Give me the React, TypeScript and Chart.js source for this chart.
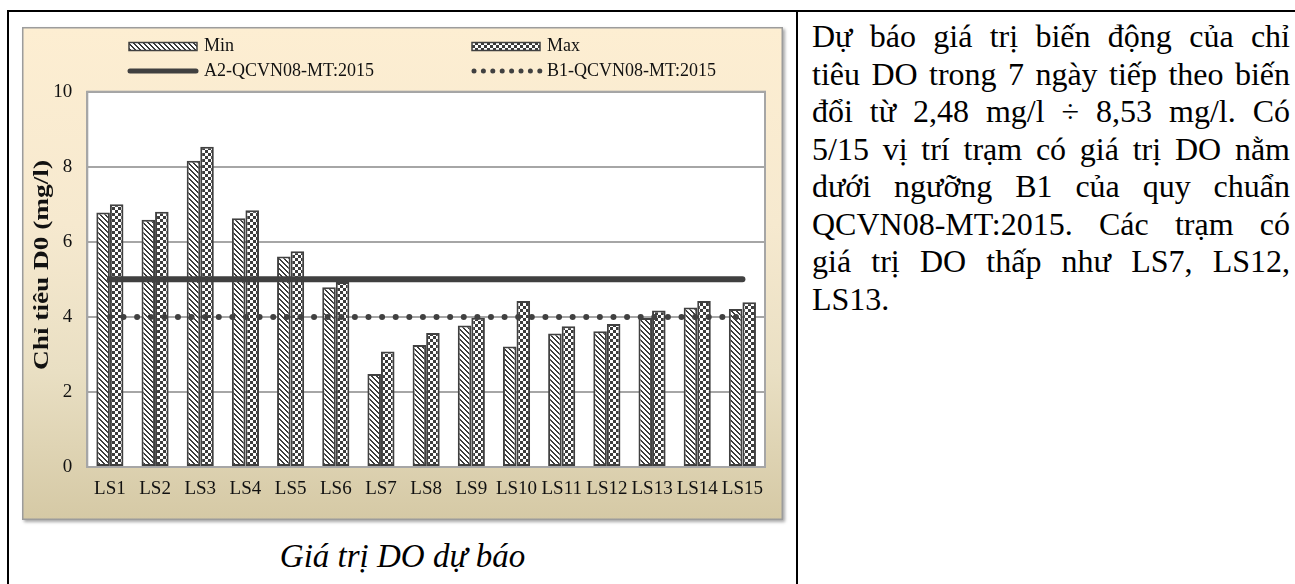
import React, { useEffect, useRef } from 'react';
import { Chart, registerables } from 'chart.js';

Chart.register(...registerables);

const categories = ['LS1', 'LS2', 'LS3', 'LS4', 'LS5', 'LS6', 'LS7', 'LS8', 'LS9', 'LS10', 'LS11', 'LS12', 'LS13', 'LS14', 'LS15'];
const minValues = [6.78, 6.59, 8.16, 6.63, 5.61, 4.79, 2.48, 3.25, 3.77, 3.21, 3.56, 3.62, 3.97, 4.25, 4.21];
const maxValues = [7.0, 6.8, 8.53, 6.84, 5.75, 4.93, 3.08, 3.57, 3.98, 4.42, 3.75, 3.81, 4.17, 4.42, 4.39];
const a2Values = [5, 5, 5, 5, 5, 5, 5, 5, 5, 5, 5, 5, 5, 5, 5];
const b1Values = [4, 4, 4, 4, 4, 4, 4, 4, 4, 4, 4, 4, 4, 4, 4];
const yTicks = [0, 2, 4, 6, 8, 10];
const seriesLabels = ['Min', 'Max', 'A2-QCVN08-MT:2015', 'B1-QCVN08-MT:2015'];
const axisTitle = 'Chỉ tiêu D0 (mg/l)';
const caption = 'Giá trị DO dự báo';
const paragraphLines = [
  'Dự báo giá trị biến động của chỉ',
  'tiêu DO trong 7 ngày tiếp theo biến',
  'đổi từ 2,48 mg/l ÷ 8,53 mg/l. Có',
  '5/15 vị trí trạm có giá trị DO nằm',
  'dưới ngưỡng B1 của quy chuẩn',
  'QCVN08-MT:2015. Các trạm có',
  'giá trị DO thấp như LS7, LS12,',
  'LS13.',
];

const SERIF = '"Liberation Serif", "Times New Roman", serif';
const DARK = '#404040';

function makeStripe(ctx: CanvasRenderingContext2D): CanvasPattern {
  const size = 5;
  const c = document.createElement('canvas');
  c.width = size;
  c.height = size;
  const t = c.getContext('2d')!;
  t.fillStyle = '#ffffff';
  t.fillRect(0, 0, size, size);
  t.fillStyle = '#3c3c3c';
  for (let y = 0; y < size; y++) {
    for (let x = 0; x < size; x++) {
      const d = (((x - y) % size) + size) % size;
      if (d < 2) t.fillRect(x, y, 1, 1);
    }
  }
  return ctx.createPattern(c, 'repeat')!;
}

function makeChecker(ctx: CanvasRenderingContext2D): CanvasPattern {
  const cell = 3;
  const c = document.createElement('canvas');
  c.width = cell * 2;
  c.height = cell * 2;
  const t = c.getContext('2d')!;
  t.fillStyle = '#ffffff';
  t.fillRect(0, 0, cell * 2, cell * 2);
  t.fillStyle = '#3c3c3c';
  t.fillRect(0, 0, cell, cell);
  t.fillRect(cell, cell, cell, cell);
  return ctx.createPattern(c, 'repeat')!;
}

export default function App() {
  const canvasRef = useRef<HTMLCanvasElement | null>(null);

  useEffect(() => {
    const canvas = canvasRef.current;
    if (!canvas) return;
    const ctx = canvas.getContext('2d')!;
    const stripe = makeStripe(ctx);
    const checker = makeChecker(ctx);

    const plotBg = {
      id: 'plotBg',
      beforeDraw(chart: any) {
        const { ctx: c, chartArea: a } = chart;
        c.save();
        c.fillStyle = '#ffffff';
        c.fillRect(a.left, a.top, a.right - a.left, a.bottom - a.top);
        c.restore();
      },
      beforeDatasetsDraw(chart: any) {
        const { ctx: c, chartArea: a } = chart;
        c.save();
        c.strokeStyle = '#a6a6a6';
        c.lineWidth = 2;
        c.strokeRect(a.left, a.top, a.right - a.left, a.bottom - a.top);
        c.restore();
      },
    };

    const extras = {
      id: 'extras',
      afterDraw(chart: any) {
        const c: CanvasRenderingContext2D = chart.ctx;
        // y-axis title
        c.save();
        c.translate(21, 238);
        c.rotate(-Math.PI / 2);
        c.scale(1.3, 1);
        c.font = 'bold 21px ' + SERIF;
        c.textAlign = 'center';
        c.textBaseline = 'middle';
        c.fillStyle = '#111';
        c.fillText(axisTitle, 0, 0);
        c.restore();

        // legend
        c.save();
        c.font = '18px ' + SERIF;
        c.textBaseline = 'middle';
        c.textAlign = 'left';
        c.fillStyle = '#111';
        const col1 = 107;
        const col2 = 450;
        const row1 = 19.5;
        const row2 = 44;
        const bw = 68;
        // Min
        c.fillStyle = stripe;
        c.fillRect(col1, row1 - 4, bw, 8);
        c.strokeStyle = DARK;
        c.lineWidth = 1.5;
        c.strokeRect(col1, row1 - 4, bw, 8);
        c.fillStyle = '#111';
        c.fillText(seriesLabels[0], col1 + bw + 7, row1);
        // Max
        c.fillStyle = checker;
        c.fillRect(col2, row1 - 4, bw, 8);
        c.strokeRect(col2, row1 - 4, bw, 8);
        c.fillStyle = '#111';
        c.fillText(seriesLabels[1], col2 + bw + 7, row1);
        // A2
        c.strokeStyle = DARK;
        c.lineWidth = 5;
        c.lineCap = 'round';
        c.beginPath();
        c.moveTo(col1 + 1, row2);
        c.lineTo(col1 + bw - 1, row2);
        c.stroke();
        c.fillStyle = '#111';
        c.fillText(seriesLabels[2], col1 + bw + 7, row2);
        // B1
        c.fillStyle = DARK;
        for (let i = 0; i < 8; i++) {
          c.beginPath();
          c.arc(col2 + 2 + i * 9.4, row2, 2.5, 0, Math.PI * 2);
          c.fill();
        }
        c.fillStyle = '#111';
        c.fillText(seriesLabels[3], col2 + bw + 7, row2);
        c.restore();
      },
    };

    const chart = new Chart(canvas, {
      type: 'bar',
      data: {
        labels: categories,
        datasets: [
          {
            type: 'line',
            label: seriesLabels[2],
            data: a2Values,
            borderColor: DARK,
            borderWidth: 6,
            borderCapStyle: 'round',
            pointRadius: 0,
            fill: false,
            order: 0,
          } as any,
          {
            type: 'line',
            label: seriesLabels[3],
            data: b1Values,
            borderColor: DARK,
            borderWidth: 6,
            borderCapStyle: 'round',
            borderDash: [0.01, 13.6],
            pointRadius: 0,
            fill: false,
            order: 0,
          } as any,
          {
            type: 'bar',
            label: seriesLabels[0],
            data: minValues,
            backgroundColor: stripe,
            borderColor: DARK,
            borderWidth: 2,
            borderSkipped: false,
            categoryPercentage: 0.6,
            barPercentage: 1,
            order: 1,
          } as any,
          {
            type: 'bar',
            label: seriesLabels[1],
            data: maxValues,
            backgroundColor: checker,
            borderColor: DARK,
            borderWidth: 2,
            borderSkipped: false,
            categoryPercentage: 0.6,
            barPercentage: 1,
            order: 1,
          } as any,
        ],
      },
      options: {
        responsive: false,
        animation: false,
        events: [],
        layout: { padding: { top: 64.7, right: 18, left: 0, bottom: 0 } },
        plugins: {
          legend: { display: false },
          tooltip: { enabled: false },
        },
        scales: {
          x: {
            grid: { display: false, drawTicks: false },
            border: { display: false },
            ticks: {
              font: { family: SERIF, size: 19 },
              color: '#111',
              padding: 11,
              maxRotation: 0,
              autoSkip: false,
            },
            afterFit: (s: any) => {
              s.height = 53;
            },
          },
          y: {
            min: 0,
            max: 10,
            grid: { color: '#a6a6a6', lineWidth: 2, drawTicks: false },
            border: { display: true, color: '#a6a6a6', width: 2 },
            ticks: {
              font: { family: SERIF, size: 19 },
              color: '#111',
              padding: 15,
            },
            afterBuildTicks: (s: any) => {
              s.ticks = yTicks.map((v) => ({ value: v }));
            },
            afterFit: (s: any) => {
              s.width = 65.3;
            },
          },
        },
      } as any,
      plugins: [plotBg, extras],
    });

    return () => {
      chart.destroy();
    };
  }, []);

  return (
    <div
      style={{
        position: 'absolute',
        left: 0,
        top: 0,
        width: 1295,
        height: 584,
        overflow: 'hidden',
        background: '#ffffff',
        fontFamily: SERIF,
        color: '#000',
      }}
    >
      <div style={{ position: 'absolute', left: 7, top: 10, width: 1288, height: 2, background: '#000' }} />
      <div style={{ position: 'absolute', left: 7, top: 10, width: 2, height: 574, background: '#000' }} />
      <div style={{ position: 'absolute', left: 796, top: 10, width: 2, height: 574, background: '#000' }} />
      <div
        style={{
          position: 'absolute',
          left: 22,
          top: 27,
          width: 761,
          height: 493,
          background: 'linear-gradient(180deg, #fdeed2 0%, #f6e9cf 40%, #e9dfc3 70%, #d5c9a5 100%)',
          boxShadow: 'inset 0 0 0 1.5px #9c9c9c, 2px 2px 3px rgba(0,0,0,0.35)',
        }}
      >
        <canvas ref={canvasRef} width={761} height={493} style={{ display: 'block' }} />
      </div>
      <div
        style={{
          position: 'absolute',
          left: 9,
          top: 536,
          width: 787,
          textAlign: 'center',
          fontSize: 33,
          fontStyle: 'italic',
          lineHeight: '40px',
        }}
      >
        {caption}
      </div>
      <div
        style={{
          position: 'absolute',
          left: 812,
          top: 18,
          width: 478,
          fontSize: 32,
          lineHeight: '37.5px',
        }}
      >
        {paragraphLines.map((line, i) => (
          <div
            key={i}
            style={{
              textAlign: i < paragraphLines.length - 1 ? 'justify' : 'left',
              textAlignLast: i < paragraphLines.length - 1 ? 'justify' : 'left',
              whiteSpace: 'nowrap',
            } as any}
          >
            {line}
          </div>
        ))}
      </div>
    </div>
  );
}
